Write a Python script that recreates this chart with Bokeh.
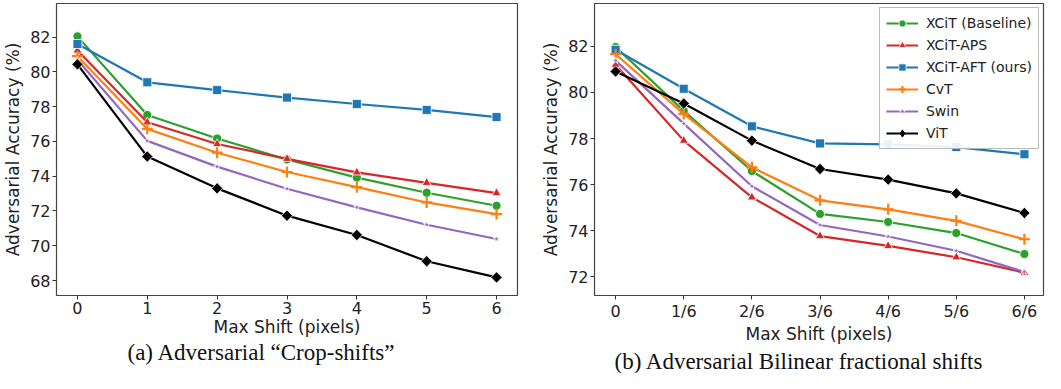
from bokeh.plotting import figure
from bokeh.models import FixedTicker, Legend, LegendItem, Title, Range1d
from bokeh.layouts import row
from bokeh.embed import file_html
from bokeh.resources import INLINE

# ---------------- data ----------------
shift_crop = [0, 1, 2, 3, 4, 5, 6]
shift_frac = [0, 1, 2, 3, 4, 5, 6]
crop_tick_labels = ["0", "1", "2", "3", "4", "5", "6"]
frac_tick_labels = ["0", "1/6", "2/6", "3/6", "4/6", "5/6", "6/6"]
series_names = ["XCiT (Baseline)", "XCiT-APS", "XCiT-AFT (ours)", "CvT", "Swin", "ViT"]

crop_xcit = [82.04, 77.52, 76.17, 74.96, 73.92, 73.05, 72.30]
crop_aps = [81.23, 77.10, 75.85, 75.00, 74.22, 73.62, 73.03]
crop_aft = [81.60, 79.40, 78.95, 78.52, 78.15, 77.81, 77.40]
crop_cvt = [80.90, 76.72, 75.35, 74.24, 73.37, 72.49, 71.82]
crop_swin = [80.70, 76.03, 74.55, 73.28, 72.21, 71.21, 70.39]
crop_vit = [80.43, 75.13, 73.30, 71.73, 70.62, 69.11, 68.18]

frac_xcit = [81.97, 79.20, 76.59, 74.73, 74.38, 73.90, 72.99]
frac_aps = [81.20, 77.91, 75.45, 73.77, 73.34, 72.85, 72.18]
frac_aft = [81.85, 80.16, 78.53, 77.79, 77.75, 77.63, 77.32]
frac_cvt = [81.66, 79.07, 76.75, 75.32, 74.93, 74.43, 73.63]
frac_swin = [81.38, 78.65, 75.93, 74.25, 73.75, 73.13, 72.21]
frac_vit = [80.91, 79.52, 77.91, 76.68, 76.22, 75.62, 74.77]

y_ticks_crop = [68, 70, 72, 74, 76, 78, 80, 82]
y_ticks_frac = [72, 74, 76, 78, 80, 82]

# ---------------- styles ----------------
STYLES = [
    dict(color="#2ca02c", marker="circle", size=9, angle=0.0),
    dict(color="#d62728", marker="triangle", size=9, angle=0.0),
    dict(color="#1f77b4", marker="square", size=9, angle=0.0),
    dict(color="#ff7f0e", marker="cross", size=11, angle=0.0),
    dict(color="#9467bd", marker="star", size=7, angle=0.0),
    dict(color="#000000", marker="square", size=8, angle=0.785398),
]

TICK_FONT = "16px"
LABEL_FONT = "17px"
FONT = "DejaVu Sans"


def make_fig(xs, series, tick_labels, y_ticks, xr, yr, width, bl, br, caption, cap_off,
             cap_standoff, legend):
    p = figure(width=width, height=373, output_backend="svg", toolbar_location=None,
               x_range=Range1d(*xr), y_range=Range1d(*yr),
               min_border_left=bl, min_border_right=br, min_border_top=3,
               min_border_bottom=0)
    p.grid.visible = False
    p.outline_line_color = "#444444"
    p.outline_line_width = 1.2
    p.background_fill_color = "white"
    p.border_fill_color = "white"

    items = []
    for name, ys, st in zip(series_names, series, STYLES):
        lr = p.line(xs, ys, line_color=st["color"], line_width=2.2)
        if st["marker"] == "cross":
            sr = p.scatter(xs, ys, marker="cross", size=st["size"], line_color=st["color"],
                           line_width=2.2)
            key = sr
        elif st["angle"] != 0.0:
            # a slim diamond underneath provides the legend key, the rotated square on top
            key = p.scatter(xs, ys, marker="diamond", size=10, fill_color=st["color"],
                            line_color=st["color"])
            sr = p.scatter(xs, ys, marker=st["marker"], size=st["size"], fill_color=st["color"],
                           angle=st["angle"], line_color="white", line_alpha=0.8, line_width=1)
        else:
            sr = p.scatter(xs, ys, marker=st["marker"], size=st["size"], fill_color=st["color"],
                           line_color="white", line_alpha=0.8, line_width=1)
            key = sr
        items.append(LegendItem(label=name, renderers=[lr, key]))

    for ax in (p.xaxis[0], p.yaxis[0]):
        ax.axis_line_color = None
        ax.major_tick_out = 4
        ax.major_tick_in = 0
        ax.minor_tick_out = 0
        ax.minor_tick_in = 0
        ax.major_tick_line_color = "#333333"
        ax.major_label_text_font = FONT
        ax.major_label_text_font_size = TICK_FONT
        ax.major_label_text_color = "#222222"
        ax.major_label_text_line_height = 1.0
        ax.axis_label_text_font = FONT
        ax.axis_label_text_font_size = LABEL_FONT
        ax.axis_label_text_font_style = "normal"
        ax.axis_label_text_color = "#222222"
        ax.axis_label_text_line_height = 1.0
        ax.major_label_standoff = 2
        ax.axis_label_standoff = 0

    p.xaxis.ticker = FixedTicker(ticks=xs)
    p.xaxis.major_label_overrides = {x: l for x, l in zip(xs, tick_labels)}
    p.yaxis.ticker = FixedTicker(ticks=y_ticks)
    p.xaxis.axis_label = "Max Shift (pixels)"
    p.yaxis.axis_label = "Adversarial Accuracy (%)"
    p.yaxis.axis_label_standoff = 4

    p.add_layout(Title(text=caption, align="left", offset=cap_off,
                       text_font="Liberation Serif", text_font_size="23px",
                       text_line_height=1.0, vertical_align="bottom",
                       text_font_style="normal", text_color="#111111",
                       standoff=cap_standoff),
                 "below")

    if legend:
        lg = Legend(items=items, location="top_right", margin=4, padding=6, spacing=4,
                    label_text_font=FONT, label_text_font_size="14px",
                    label_text_color="#222222", label_height=18, glyph_height=18,
                    glyph_width=32, label_standoff=8,
                    border_line_color="#777777", border_line_width=1,
                    background_fill_color="white", background_fill_alpha=0.9)
        p.add_layout(lg, "center")
    return p


p1 = make_fig(shift_crop, [crop_xcit, crop_aps, crop_aft, crop_cvt, crop_swin, crop_vit],
              crop_tick_labels, y_ticks_crop, (-0.3, 6.3), (67.14, 83.93), 530, 56, 13,
              "(a) Adversarial \u201cCrop-shifts\u201d", 71, -4, False)
p2 = make_fig(shift_frac, [frac_xcit, frac_aps, frac_aft, frac_cvt, frac_swin, frac_vit],
              frac_tick_labels, y_ticks_frac, (-0.31, 6.28), (71.19, 83.86), 515, 64, 2,
              "(b) Adversarial Bilinear fractional shifts", 20, 0, True)

layout = row(p1, p2)
open("out.html", "w").write(file_html(layout, INLINE))
